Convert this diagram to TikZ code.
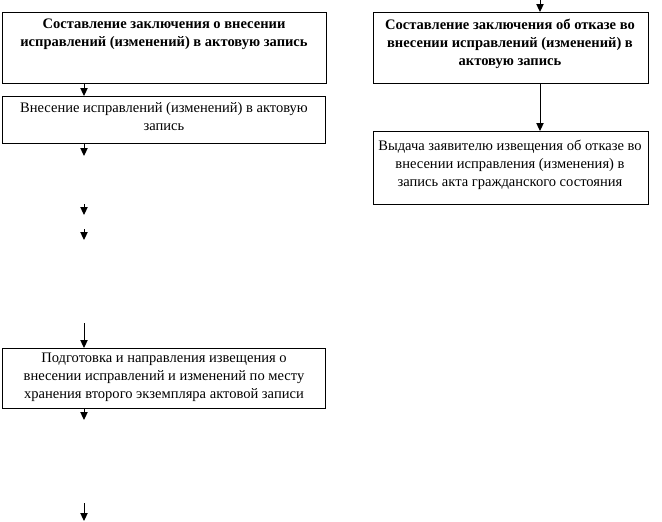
\documentclass[tikz,border=0pt]{standalone}
\usepackage{fontspec}
\setmainfont{Liberation Serif}
\usetikzlibrary{arrows.meta,positioning}

\begin{document}
\begin{tikzpicture}[x=.75pt,y=-.75pt,
 box/.style={draw,line width=.75pt,anchor=north west,inner sep=0pt},
 txt/.style={align=center,anchor=north,inner sep=0pt,font=\fontsize{10.9}{13.5}\selectfont},
 arr/.style={-{Triangle[width=5.5pt,length=6pt]},line width=.75pt}]
 \useasboundingbox (0,0) rectangle (662,522);
 % left column
 \node[box,minimum width=243pt,minimum height=53.25pt] (zakl) at (2,12) {};
 \node[txt,font=\fontsize{10.9}{13.5}\selectfont\bfseries] (zaklT) at (164,19)
  {Составление заключения о внесении\\исправлений (изменений) в актовую запись};
 \node[box,minimum width=242.25pt,minimum height=35.25pt] (vnes) at (2,96) {};
 \node[txt] (vnesT) at (164,102)
  {Внесение исправлений (изменений) в актовую\\запись};
 \node[box,minimum width=242.25pt,minimum height=45pt] (izv) at (2,348) {};
 \node[txt] (izvT) at (164,353)
  {Подготовка и направления извещения о\\внесении исправлений и изменений по месту\\хранения второго экземпляра актовой записи};
 % right column
 \node[box,minimum width=206.25pt,minimum height=53.25pt] (otk) at (373,12) {};
 \node[txt,font=\fontsize{10.9}{13.5}\selectfont\bfseries] (otkT) at (510,19)
  {Составление заключения об отказе во\\внесении исправлений (изменений) в\\актовую запись};
 \node[box,minimum width=206.25pt,minimum height=54.75pt] (vyd) at (373,131) {};
 \node[txt] (vydT) at (510,140)
  {Выдача заявителю извещения об отказе во\\внесении исправления (изменения) в\\запись акта гражданского состояния};
 % free ends
 \coordinate (a1) at (84,156);
 \coordinate (a2s) at (84,204); \coordinate (a2e) at (84,215);
 \coordinate (a3s) at (84,229); \coordinate (a3e) at (84,240);
 \coordinate (a4) at (84,323);
 \coordinate (a5) at (84,420);
 \coordinate (a6s) at (84,503); \coordinate (a6e) at (84,521);
 \coordinate (top) at (540,0);
 % arrows
 \draw[arr] (zakl.south-|a1) -- (vnes.north-|a1);
 \draw[arr] (vnes.south-|a1) -- (a1);
 \draw[arr] (a2s) -- (a2e);
 \draw[arr] (a3s) -- (a3e);
 \draw[arr] (a4) -- (izv.north-|a4);
 \draw[arr] (izv.south-|a5) -- (a5);
 \draw[arr] (a6s) -- (a6e);
 \draw[arr] (top) -- (otk.north-|top);
 \draw[arr] (otk.south-|top) -- (vyd.north-|top);
\end{tikzpicture}
\end{document}
